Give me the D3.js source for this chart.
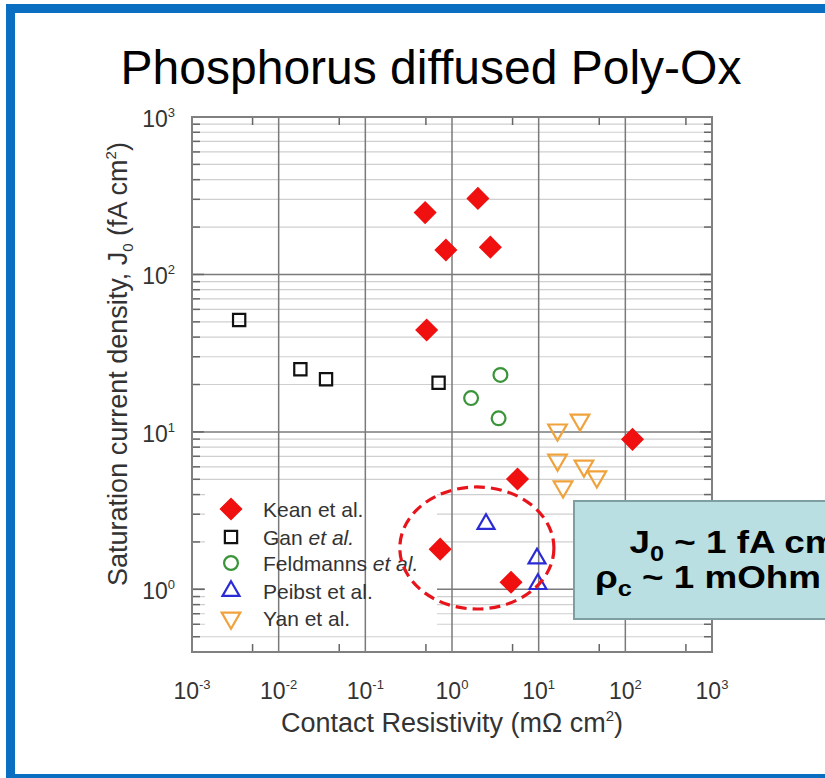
<!DOCTYPE html>
<html>
<head>
<meta charset="utf-8">
<script src="https://cdn.jsdelivr.net/npm/d3@7"></script>
<style>
  body { margin: 0; background: #fff; }
  svg { display: block; font-family: "Liberation Sans", Arial, sans-serif; }
</style>
</head>
<body>
<div id="chart"></div>
<script>
// data (x: contact resistivity mOhm cm2, y: J0 fA cm-2)
var keanX = [0.49, 1.99, 0.85, 2.77, 0.51, 121, 5.7, 0.73, 4.8];
var keanY = [247, 304, 143, 149, 44.4, 8.97, 5.02, 1.80, 1.11];
var ganX = [0.0035, 0.0178, 0.0352, 0.70];
var ganY = [51.4, 25.0, 21.6, 20.5];
var feldX = [3.62, 1.66, 3.45];
var feldY = [23.0, 16.4, 12.2];
var peibstX = [2.47, 9.57, 9.8, 72];
var peibstY = [2.60, 1.57, 1.08, 0.72];
var yanX = [16.5, 30.0, 16.5, 33.3, 19.1, 46.9];
var yanY = [10.3, 11.9, 6.63, 6.07, 4.48, 5.19];

var seriesNames = ["Kean", "Gan", "Feldmanns", "Peibst", "Yan"];
var xTicks = [-3, -2, -1, 0, 1, 2, 3];
var yTicks = [0, 1, 2, 3];

var totalWidth = 825, totalHeight = 778;
var plot = {left: 192, right: 712, top: 117, bottom: 652};

var svg = d3.select("#chart").append("svg")
    .attr("width", totalWidth)
    .attr("height", totalHeight);

svg.append("rect").attr("width", totalWidth).attr("height", totalHeight).attr("fill", "#fff");

// slide frame
svg.append("rect")
    .attr("x", 10.5).attr("y", 8.5)
    .attr("width", 900).attr("height", 770)
    .attr("fill", "none")
    .attr("stroke", "#0b6fc1")
    .attr("stroke-width", 9);

svg.append("text")
    .attr("x", 431).attr("y", 84)
    .attr("text-anchor", "middle")
    .style("font-size", "48px")
    .attr("fill", "#000")
    .text("Phosphorus diffused Poly-Ox");

var x = d3.scaleLog().domain([1e-3, 1e3]).range([plot.left, plot.right]);
var y = d3.scaleLog().domain([0.4, 1000]).range([plot.bottom, plot.top]);

var yMinor = [];
[-1, 0, 1, 2].forEach(function(e) {
    for (var k = 1; k < 10; k++) {
        var v = k * Math.pow(10, e);
        if (v >= 0.4 && v < 1000 && k != 1) yMinor.push(v);
    }
});
var xMinor = [-3, -2, -1, 0, 1, 2].map(function(e){ return 5 * Math.pow(10, e); });

var g = svg.append("g");

// minor horizontal grid
g.selectAll(".hmin").data(yMinor).enter().append("line")
    .attr("x1", plot.left).attr("x2", plot.right)
    .attr("y1", function(d){ return y(d); }).attr("y2", function(d){ return y(d); })
    .attr("stroke", "#cfcfcf").attr("stroke-width", 1.2);
// major horizontal grid
g.selectAll(".hmaj").data(yTicks).enter().append("line")
    .attr("x1", plot.left).attr("x2", plot.right)
    .attr("y1", function(d){ return y(Math.pow(10, d)); }).attr("y2", function(d){ return y(Math.pow(10, d)); })
    .attr("stroke", "#7a7a7a").attr("stroke-width", 1.5);

// legend background hides the horizontal grid
g.append("rect")
    .attr("x", 205).attr("y", 492).attr("width", 232).attr("height", 142)
    .attr("fill", "#fff");

// vertical grid at decades
g.selectAll(".vmaj").data(xTicks).enter().append("line")
    .attr("x1", function(d){ return x(Math.pow(10, d)); }).attr("x2", function(d){ return x(Math.pow(10, d)); })
    .attr("y1", plot.top).attr("y2", plot.bottom)
    .attr("stroke", "#7a7a7a").attr("stroke-width", 1.5);

// y ticks, both sides, inward
var yTickData = yMinor.map(function(v){ return {v: v, len: 8}; })
    .concat(yTicks.map(function(d){ return {v: Math.pow(10, d), len: 12}; }));
[plot.left, plot.right].forEach(function(edge, i) {
    var dir = i == 0 ? 1 : -1;
    g.selectAll(null).data(yTickData).enter().append("line")
        .attr("x1", edge).attr("x2", function(d){ return edge + dir * d.len; })
        .attr("y1", function(d){ return y(d.v); }).attr("y2", function(d){ return y(d.v); })
        .attr("stroke", "#666").attr("stroke-width", 1.5);
});
// x minor ticks, top and bottom, inward
[plot.top, plot.bottom].forEach(function(edge, i) {
    var dir = i == 0 ? 1 : -1;
    g.selectAll(null).data(xMinor).enter().append("line")
        .attr("x1", function(d){ return x(d); }).attr("x2", function(d){ return x(d); })
        .attr("y1", edge).attr("y2", edge + dir * 8)
        .attr("stroke", "#666").attr("stroke-width", 1.5);
});

g.append("rect")
    .attr("x", plot.left).attr("y", plot.top)
    .attr("width", plot.right - plot.left).attr("height", plot.bottom - plot.top)
    .attr("fill", "none").attr("stroke", "#808080").attr("stroke-width", 2);

// tick labels
g.selectAll(".xlab").data(xTicks).enter().append("text")
    .attr("x", function(d){ return x(Math.pow(10, d)); })
    .attr("y", 699)
    .attr("text-anchor", "middle")
    .attr("fill", "#333")
    .style("font-size", "23px")
    .each(function(d) {
        var t = d3.select(this);
        t.append("tspan").text("10");
        t.append("tspan").attr("dy", -10).style("font-size", "13px").text(d);
    });
g.selectAll(".ylab").data(yTicks).enter().append("text")
    .attr("x", 175)
    .attr("y", function(d){ return y(Math.pow(10, d)) + 10; })
    .attr("text-anchor", "end")
    .attr("fill", "#333")
    .style("font-size", "23px")
    .each(function(d) {
        var t = d3.select(this);
        t.append("tspan").text("10");
        t.append("tspan").attr("dy", -10).style("font-size", "13px").text(d);
    });

// axis titles
var xt = svg.append("text")
    .attr("x", 452).attr("y", 732)
    .attr("text-anchor", "middle")
    .attr("fill", "#333")
    .style("font-size", "27px");
xt.append("tspan").text("Contact Resistivity (m\u03A9 cm");
xt.append("tspan").attr("dy", -11).style("font-size", "15px").text("2");
xt.append("tspan").attr("dy", 11).text(")");

var yt = svg.append("text")
    .attr("transform", "translate(127,364) rotate(-90)")
    .attr("text-anchor", "middle")
    .attr("fill", "#333")
    .style("font-size", "27px");
yt.append("tspan").text("Saturation current density, J");
yt.append("tspan").attr("dy", 6).style("font-size", "15px").text("0");
yt.append("tspan").attr("dy", -6).text(" (fA cm");
yt.append("tspan").attr("dy", -11).style("font-size", "15px").text("2");
yt.append("tspan").attr("dy", 11).text(")");

// series
var series = [
    {name: "Kean", xs: keanX, ys: keanY, shape: d3.symbolSquare, size: 200, rot: 45, fill: "#f01010", stroke: "#f01010", label: ["Kean et al."]},
    {name: "Gan", xs: ganX, ys: ganY, shape: d3.symbolSquare, size: 150, rot: 0, fill: "none", stroke: "#111", label: ["Gan ", "et al."]},
    {name: "Feldmanns", xs: feldX, ys: feldY, shape: d3.symbolCircle, size: 150, rot: 0, fill: "none", stroke: "#3a943a", label: ["Feldmanns ", "et al."]},
    {name: "Peibst", xs: peibstX, ys: peibstY, shape: d3.symbolTriangle, size: 125, rot: 0, fill: "none", stroke: "#2b2bd6", label: ["Peibst et al."]},
    {name: "Yan", xs: yanX, ys: yanY, shape: d3.symbolTriangle, size: 150, rot: 180, fill: "none", stroke: "#f0a23c", label: ["Yan et al."]}
];

series.forEach(function(s) {
    var pts = s.xs.map(function(v, i){ return [v, s.ys[i]]; });
    g.selectAll(null).data(pts).enter().append("path")
        .attr("d", d3.symbol(s.shape, s.size))
        .attr("transform", function(d){ return "translate(" + x(d[0]) + "," + y(d[1]) + ") rotate(" + s.rot + ")"; })
        .attr("fill", s.fill)
        .attr("stroke", s.stroke)
        .attr("stroke-width", 2.2);
});

// legend
var legY = [509, 537, 563, 591, 618];
var leg = g.selectAll(".leg").data(series).enter().append("g")
    .attr("transform", function(d, i){ return "translate(231," + legY[i] + ")"; });
leg.append("path")
    .attr("d", function(d){ return d3.symbol(d.shape, d.size)(); })
    .attr("transform", function(d){ return "rotate(" + d.rot + ")"; })
    .attr("fill", function(d){ return d.fill; })
    .attr("stroke", function(d){ return d.stroke; })
    .attr("stroke-width", 2.2);
leg.append("text")
    .attr("x", 32).attr("y", 8)
    .attr("fill", "#333")
    .style("font-size", "21px")
    .each(function(d) {
        var t = d3.select(this);
        t.append("tspan").text(d.label[0]);
        if (d.label[1]) t.append("tspan").style("font-style", "italic").text(d.label[1]);
    });

// dashed ellipse annotation (data extent of the highlighted region)
var ex0 = x(0.25), ex1 = x(15), ey0 = y(4.47), ey1 = y(0.75);
g.append("ellipse")
    .attr("cx", (ex0 + ex1) / 2).attr("cy", (ey0 + ey1) / 2)
    .attr("rx", (ex1 - ex0) / 2).attr("ry", (ey1 - ey0) / 2)
    .attr("fill", "none")
    .attr("stroke", "#e8141c")
    .attr("stroke-width", 3.2)
    .attr("stroke-dasharray", "11,6");

// callout box
svg.append("rect")
    .attr("x", 574).attr("y", 501).attr("width", 300).attr("height", 118)
    .attr("fill", "#b9dfe3")
    .attr("stroke", "#7f9ea2")
    .attr("stroke-width", 2);
var callout = svg.append("g")
    .attr("transform", "translate(595,0) scale(1.15,1)")
    .style("font-size", "32px").style("font-weight", "bold").attr("fill", "#000");
var c1 = callout.append("text").attr("x", 30).attr("y", 553);
c1.append("tspan").text("J");
c1.append("tspan").attr("dy", 8).style("font-size", "22px").text("0");
c1.append("tspan").attr("dy", -8).text(" ~ 1 fA cm");
c1.append("tspan").attr("dy", -12).style("font-size", "20px").text("-2");
var c2 = callout.append("text").attr("x", 0).attr("y", 588);
c2.append("tspan").text("\u03C1");
c2.append("tspan").attr("dy", 8).style("font-size", "22px").text("c");
c2.append("tspan").attr("dy", -8).text(" ~ 1 mOhm cm");
c2.append("tspan").attr("dy", -12).style("font-size", "20px").text("2");
</script>
</body>
</html>
